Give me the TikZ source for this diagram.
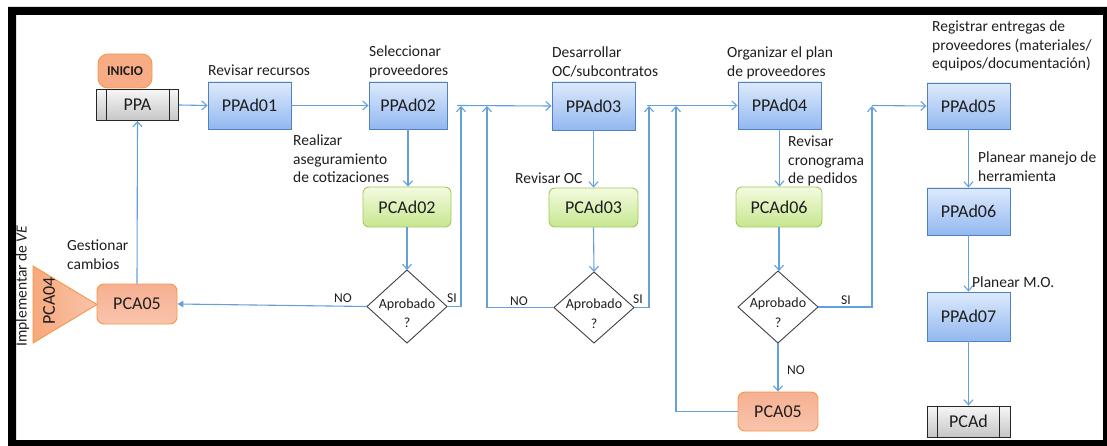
\documentclass[tikz,border=0pt]{standalone}
\usepackage{fontspec}
\setmainfont{Carlito}
\usetikzlibrary{arrows.meta}

\definecolor{blueTop}{RGB}{222,234,252}
\definecolor{blueBot}{RGB}{146,184,240}
\definecolor{blueBorder}{RGB}{79,129,189}
\definecolor{greenTop}{RGB}{244,251,224}
\definecolor{greenBot}{RGB}{198,231,142}
\definecolor{greenBorder}{RGB}{160,200,95}
\definecolor{orTop}{RGB}{246,176,146}
\definecolor{orBot}{RGB}{249,196,172}
\definecolor{orBorder}{RGB}{247,150,70}
\definecolor{grayTop}{RGB}{246,246,246}
\definecolor{grayBot}{RGB}{198,198,198}
\definecolor{wire}{RGB}{100,160,220}
\definecolor{txt}{RGB}{30,30,30}

\begin{document}
\begin{tikzpicture}[x=1pt,y=-1pt,
  box/.style={draw=blueBorder, line width=0.9pt, top color=blueTop, bottom color=blueBot,
    minimum width=83pt, minimum height=47pt, inner sep=0pt, text=txt,
    font=\fontsize{18}{20}\selectfont},
  check/.style={draw=greenBorder, line width=0.9pt, rounded corners=6pt,
    top color=greenTop, bottom color=greenBot,
    minimum width=88pt, minimum height=40pt, inner sep=0pt, text=txt,
    font=\fontsize{18}{20}\selectfont},
  change/.style={draw=orBorder, line width=0.9pt, rounded corners=7pt,
    top color=orTop, bottom color=orBot,
    minimum width=80pt, minimum height=40pt, inner sep=0pt, text=txt,
    font=\fontsize{18}{20}\selectfont},
  proc/.style={draw=black!85, line width=0.9pt, top color=grayTop, bottom color=grayBot,
    minimum width=82pt, minimum height=31pt, inner sep=0pt, text=txt,
    font=\fontsize{18}{20}\selectfont},
  procbar/.style={draw=black!85, line width=0.9pt},
  decision/.style={draw=black!75, line width=0.9pt, fill=white},
  dtext/.style={anchor=base, inner sep=0pt, text=txt, font=\fontsize{14}{16}\selectfont},
  lbl/.style={anchor=base west, inner sep=0pt, text=txt, font=\fontsize{15.5}{18}\selectfont},
  yn/.style={anchor=base, inner sep=0pt, text=txt, font=\fontsize{13.5}{15}\selectfont},
  wireline/.style={draw=wire, line width=1.1pt},
  flow/.style={wireline, -{Straight Barb[length=5pt,width=9pt]}},
  flowfill/.style={wireline, -{Triangle[length=6pt,width=6.5pt]}},
]
\useasboundingbox (0,0) rectangle (1107,446);

% outer frame
\fill[black, even odd rule] (8,7) rectangle (1112,451) (16,15) rectangle (1103,440);

% ---------- start ----------
\node[draw=orBorder, line width=0.9pt, fill=orTop!92!orange, rounded corners=10pt,
  minimum width=54pt, minimum height=34pt, inner sep=0pt, text=txt,
  font=\fontsize{13.5}{15}\selectfont\bfseries] (inicio) at (125,71) {INICIO};
\node[proc] (ppa) at (137.5,105) {PPA};
\draw[procbar] ([xshift=10pt]ppa.north west) -- ([xshift=10pt]ppa.south west);
\draw[procbar] ([xshift=-10pt]ppa.north east) -- ([xshift=-10pt]ppa.south east);

% ---------- main process boxes ----------
\node[box] (p01) at (249.5,105.5) {PPAd01};
\node[box, minimum width=78pt] (p02) at (408,105.5) {PPAd02};
\node[box, minimum height=48pt] (p03) at (593.5,106) {PPAd03};
\node[box] (p04) at (779.5,105.5) {PPAd04};
\node[box, minimum height=46pt] (p05) at (968.5,106) {PPAd05};
\node[box] (p06) at (968.5,211.5) {PPAd06};
\node[box, minimum height=49pt] (p07) at (968.5,316.5) {PPAd07};
\node[proc, minimum width=83pt] (pcad) at (968.5,421.5) {PCAd};
\draw[procbar] ([xshift=11pt]pcad.north west) -- ([xshift=11pt]pcad.south west);
\draw[procbar] ([xshift=-11pt]pcad.north east) -- ([xshift=-11pt]pcad.south east);

% ---------- checks ----------
\node[check] (c02) at (407,207) {PCAd02};
\node[check, minimum width=89pt, minimum height=39pt] (c03) at (593.5,207.5) {PCAd03};
\node[check, minimum width=86pt] (c06) at (779,207) {PCAd06};

% ---------- changes ----------
\node[change] (ca) at (137,304) {PCA05};
\node[change, minimum height=39pt] (cb) at (778,411.5) {PCA05};

% PCA04 off-page triangle
\coordinate (tA) at (33,266);
\coordinate (tB) at (97,304.5);
\coordinate (tC) at (33,343);
\draw[draw=orBorder, line width=0.9pt, left color=orTop!85!orange, right color=orBot]
  (tA) -- (tB) -- (tC) -- cycle;
\node[rotate=90, inner sep=0pt, text=txt, font=\fontsize{18}{20}\selectfont] (pca04) at (49,301) {PCA04};
\node[rotate=90, inner sep=0pt, text=txt, font=\fontsize{15.5}{18}\selectfont] (impl) at (22.5,286) {Implementar de \textit{VE}};

% ---------- decisions ----------
\path[decision] (367,306.5) coordinate (d1w) -- (407,270) coordinate (d1n)
  -- (447,306.5) coordinate (d1e) -- (407,343) coordinate (d1s) -- cycle;
\node[dtext] (d1a) at (407,308) {Aprobado};
\node[dtext] (d1b) at (407,327) {?};

\path[decision] (554,307.5) coordinate (d2w) -- (594,272) coordinate (d2n)
  -- (634,307.5) coordinate (d2e) -- (594,343) coordinate (d2s) -- cycle;
\node[dtext] (d2a) at (594,308) {Aprobado};
\node[dtext] (d2b) at (594,328) {?};

\path[decision] (738,307) coordinate (d3w) -- (778,271) coordinate (d3n)
  -- (818,307) coordinate (d3e) -- (778,343) coordinate (d3s) -- cycle;
\node[dtext] (d3a) at (778,307) {Aprobado};
\node[dtext] (d3b) at (778,327) {?};

% ---------- junction points on the top row ----------
\coordinate (j1) at (457,105.5);
\coordinate (j2) at (647,105.5);
\coordinate (j3) at (872,105.5);

% ---------- connectors ----------
\draw[flow] (ppa.east) -- (p01.west);
\draw[flow] (p01.east) -- (p02.west |- p01.east);
\draw[flow] (p02.south) -- (p02.south |- c02.north);
\draw[flow] (c02.south) -- (c02.south |- d1n);
\draw[flowfill] (d1w) -- (ca.east);
\draw[flow] (ca.north) -- (ppa.south);
\draw[flow] (d1e) -- (461,306.5) -- (461,106);
\draw[flow] (j1) -- (p03.west);

\draw[flow] (p03.south) -- (c03.north);
\draw[flow] (c03.south) -- (d2n);
\draw[flow] (d2w) -- (487,307.5) -- (487,106);
\draw[flow] (d2e) -- (649,307.5) -- (649,106);
\draw[flow] (j2) -- (p04.west);

\draw[flow] (p04.south) -- (p04.south |- c06.north);
\draw[flow] (c06.south) -- (c06.south |- d3n);
\draw[flow] (d3s) -- (cb.north);
\draw[flow] (cb.west) -- (676,411.5) -- (676,106);
\draw[flow] (d3e) -- (872,307) -- (872,106);
\draw[flow] (j3) -- (p05.west);

\draw[flow] (p05.south) -- (p06.north);
\draw[flow] (p06.south) -- (p07.north);
\draw[flow] (p07.south) -- (pcad.north);

% ---------- decision branch labels ----------
\node[yn] (no1) at (343,302) {NO};
\node[yn] (si1) at (452,302) {SI};
\node[yn] (no2) at (519,305) {NO};
\node[yn] (si2) at (638,303) {SI};
\node[yn] (no3) at (796,374) {NO};
\node[yn] (si3) at (846,304) {SI};

% ---------- activity labels ----------
\node[lbl] (l01) at (208,76) {Revisar recursos};
\node[lbl] (l02a) at (369,57) {Seleccionar};
\node[lbl] (l02b) at (369,76) {proveedores};
\node[lbl] (lc2a) at (293,146) {Realizar};
\node[lbl] (lc2b) at (293,164.5) {aseguramiento};
\node[lbl] (lc2c) at (293,183) {de cotizaciones};
\node[lbl] (lca1) at (67,251) {Gestionar};
\node[lbl] (lca2) at (67,269.5) {cambios};
\node[lbl] (l03a) at (552,58) {Desarrollar};
\node[lbl] (l03b) at (552,76.5) {OC/subcontratos};
\node[lbl] (lc3) at (515,184) {Revisar OC};
\node[lbl] (l04a) at (727,58) {Organizar el plan};
\node[lbl] (l04b) at (727,76.5) {de proveedores};
\node[lbl] (lc6a) at (788,147) {Revisar};
\node[lbl] (lc6b) at (788,165.5) {cronograma};
\node[lbl] (lc6c) at (788,184) {de pedidos};
\node[lbl] (l05a) at (932,32) {Registrar entregas de};
\node[lbl] (l05b) at (932,50.5) {proveedores (materiales/};
\node[lbl] (l05c) at (932,69) {equipos/documentación)};
\node[lbl] (l06a) at (978,163) {Planear manejo de};
\node[lbl] (l06b) at (978,181.5) {herramienta};
\node[lbl] (l07) at (972,287) {Planear M.O.};
\end{tikzpicture}
\end{document}
